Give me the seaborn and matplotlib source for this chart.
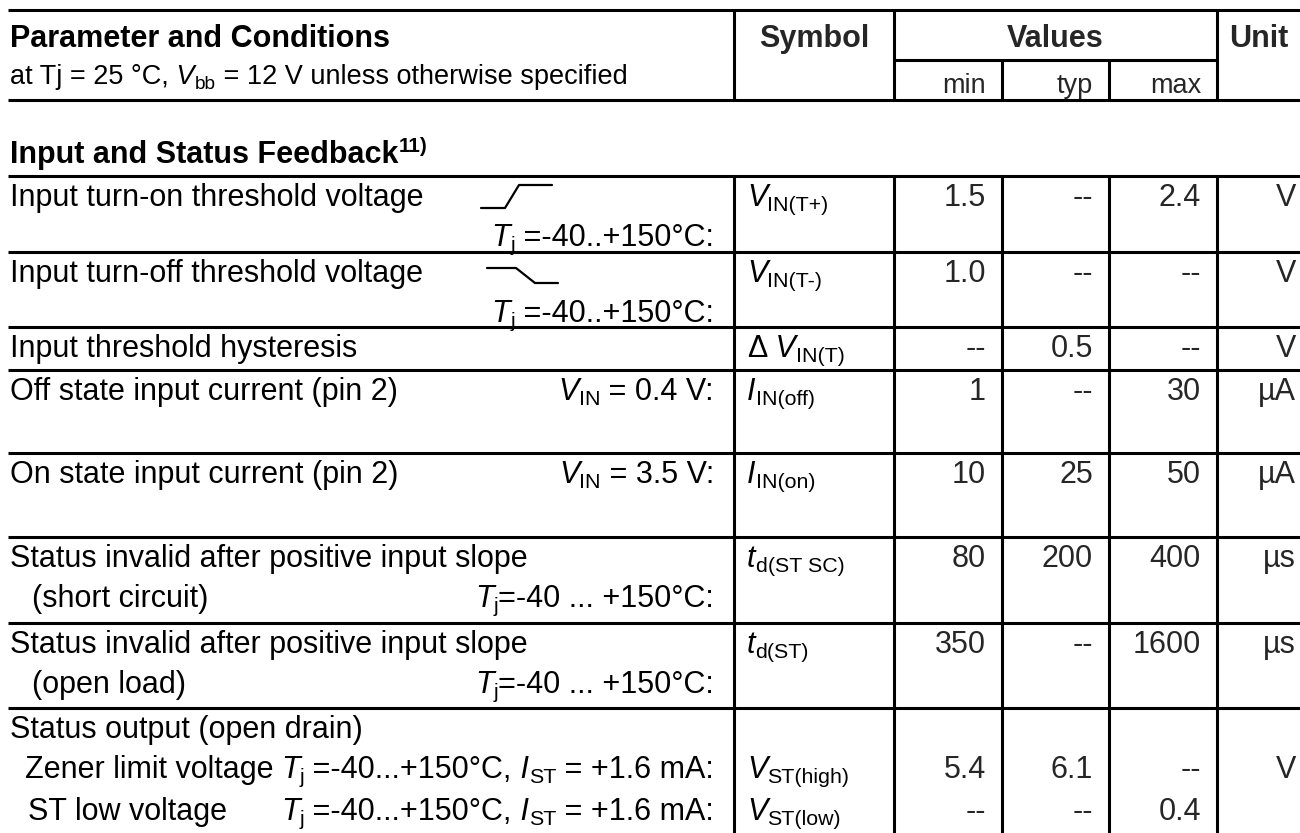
import re
import matplotlib
matplotlib.use("Agg")
import matplotlib.pyplot as plt
import seaborn as sns

# markup used in the strings: /x/ = italic, _{x} = subscript, ^{x} = superscript

# ---- header ------------------------------------------------------------
header_param = "Parameter and Conditions"
header_cond = "at Tj = 25 °C, /V/_{bb} = 12 V unless otherwise specified"
header_cols = ["Symbol", "Values", "Unit"]
value_heads = ["min", "typ", "max"]
section_title = "Input and Status Feedback^{11)}"

# ---- table body: one entry per text line --------------------------------
line_row = [0, 0, 1, 1, 2, 3, 4, 5, 5, 6, 6, 7, 7, 7]
params = [
    "Input turn-on threshold voltage", "",
    "Input turn-off threshold voltage", "",
    "Input threshold hysteresis",
    "Off state input current (pin 2)",
    "On state input current (pin 2)",
    "Status invalid after positive input slope", "(short circuit)",
    "Status invalid after positive input slope", "(open load)",
    "Status output (open drain)", "Zener limit voltage", "ST low voltage",
]
conds = [
    "", "/T/_{j} =-40..+150°C:",
    "", "/T/_{j} =-40..+150°C:",
    "",
    "/V/_{IN} = 0.4 V:",
    "/V/_{IN} = 3.5 V:",
    "", "/T/_{j}=-40 ... +150°C:",
    "", "/T/_{j}=-40 ... +150°C:",
    "", "/T/_{j} =-40...+150°C, /I/_{ST} = +1.6 mA:",
    "/T/_{j} =-40...+150°C, /I/_{ST} = +1.6 mA:",
]
symbols = [
    "/V/_{IN(T+)}", "", "/V/_{IN(T-)}", "", "Δ /V/_{IN(T)}",
    "/I/_{IN(off)}", "/I/_{IN(on)}",
    "/t/_{d(ST SC)}", "", "/t/_{d(ST)}", "",
    "", "/V/_{ST(high)}", "/V/_{ST(low)}",
]
min_vals = ["1.5", "", "1.0", "", "--", "1", "10", "80", "", "350", "", "", "5.4", "--"]
typ_vals = ["--", "", "--", "", "0.5", "--", "25", "200", "", "--", "", "", "6.1", "--"]
max_vals = ["2.4", "", "--", "", "--", "30", "50", "400", "", "1600", "", "", "--", "0.4"]
units = ["V", "", "V", "", "V", "µA", "µA", "µs", "", "µs", "", "", "V", ""]

# input slope pictograms (rising for row 0, falling for row 1)
edge_rows = [0, 1]
edge_x = [[0, 24, 38, 71], [0, 29, 48, 71]]
edge_y = [[1, 1, 0, 0], [0, 0, 1, 1]]

# ---- layout (pixels) ----------------------------------------------------
W, H = 1300, 833
col_x = [8, 734, 894, 1002, 1109, 1217, 1300]
row_top = [176, 252, 327, 370, 453, 537, 623, 708]
line_off = [30, 70, 112]
param_x = [10, 10, 10, 10, 10, 10, 10, 10, 32, 10, 32, 10, 25, 28]
edge_pos = [(481, 185, 23), (487, 268, 15)]
FS = 22
FS_SMALL = 19.5
LW = 2.2

sns.set_theme(style="white")
plt.rcParams["font.family"] = ["Liberation Sans", "DejaVu Sans"]

TOKEN = re.compile(r"/([^/]+)/|_\{([^}]*)\}|\^\{([^}]*)\}|([^/_^]+)")


def parse(s):
    parts = []
    for it, sub, sup, plain in TOKEN.findall(s):
        if it:
            parts.append([it, "it"])
        elif sub:
            parts.append([sub, "sub"])
        elif sup:
            parts.append([sup, "sup"])
        elif plain:
            parts.append([plain, "rm"])
    # trailing blanks are not measured by matplotlib, carry them forward
    for i in range(len(parts) - 1):
        txt = parts[i][0]
        stripped = txt.rstrip(" ")
        if stripped != txt:
            parts[i][0] = stripped
            parts[i + 1][0] = " " * (len(txt) - len(stripped)) + parts[i + 1][0]
    return [p for p in parts if p[0]]


def rich(ax, x, y, s, size=FS, weight="normal", ha="left"):
    parts = parse(s)
    if not parts:
        return
    order = parts if ha == "left" else parts[::-1]
    frac = 1 if ha == "left" else 0
    prev = None
    for txt, kind in order:
        fs, dy, style = size, 0.0, "normal"
        if kind == "it":
            style = "italic"
        elif kind == "sub":
            fs, dy = size * 0.7, -0.17 * size
        elif kind == "sup":
            fs, dy = size * 0.68, 0.36 * size
        if prev is None:
            xy, coords = (x, y), "data"
        else:
            xy, coords = (frac, y), (prev, "data")
        prev = ax.annotate(txt, xy=xy, xycoords=coords, xytext=(0, dy),
                           textcoords="offset points", ha=ha, va="baseline",
                           fontsize=fs, fontweight=weight, fontstyle=style,
                           color="black", annotation_clip=False)


fig = plt.figure(figsize=(13, 8.33), dpi=100)
ax = fig.add_axes([0, 0, 1, 1])
ax.set_xlim(0, W)
ax.set_ylim(H, 0)
ax.axis("off")

line_kw = dict(color="black", linewidth=LW)

# header grid
ax.hlines([10, 100], col_x[0], col_x[-1], **line_kw)
ax.hlines(60, col_x[2], col_x[5], **line_kw)
ax.vlines([col_x[1], col_x[2], col_x[5]], 10, 100, **line_kw)
ax.vlines([col_x[3], col_x[4]], 60, 100, **line_kw)

# body grid
ax.hlines(row_top, col_x[0], col_x[-1], **line_kw)
ax.vlines(col_x[1:6], row_top[0], H, **line_kw)

# header text
rich(ax, 10, 47, header_param, weight="bold")
rich(ax, 10, 84, header_cond, size=FS_SMALL)
head_centers = [(col_x[1] + col_x[2]) / 2, (col_x[2] + col_x[5]) / 2, (col_x[5] + col_x[6]) / 2]
for cx, lab in zip(head_centers, header_cols):
    ax.text(cx, 47, lab, ha="center", va="baseline", fontsize=FS, fontweight="bold")
for i, lab in enumerate(value_heads):
    ax.text(col_x[3 + i] - 16, 93, lab, ha="right", va="baseline", fontsize=FS_SMALL)

rich(ax, 10, 163, section_title, weight="bold")

# body text
prev_row, k = None, 0
for i, r in enumerate(line_row):
    k = k + 1 if r == prev_row else 0
    prev_row = r
    y = row_top[r] + line_off[k]
    rich(ax, param_x[i], y, params[i])
    rich(ax, 714, y, conds[i], ha="right")
    rich(ax, 747, y, symbols[i])
    for j, vals in enumerate([min_vals, typ_vals, max_vals]):
        if vals[i]:
            ax.text(col_x[3 + j] - 16, y, vals[i], ha="right", va="baseline", fontsize=FS)
    if units[i]:
        ax.text(1296, y, units[i], ha="right", va="baseline", fontsize=FS)

# slope pictograms
for r, ex, ey, (x0, y0, h) in zip(edge_rows, edge_x, edge_y, edge_pos):
    ax.plot([x0 + v for v in ex], [y0 + v * h for v in ey], color="black", linewidth=1.6)

fig.savefig("out.png", dpi=100, facecolor="white")
plt.close(fig)
